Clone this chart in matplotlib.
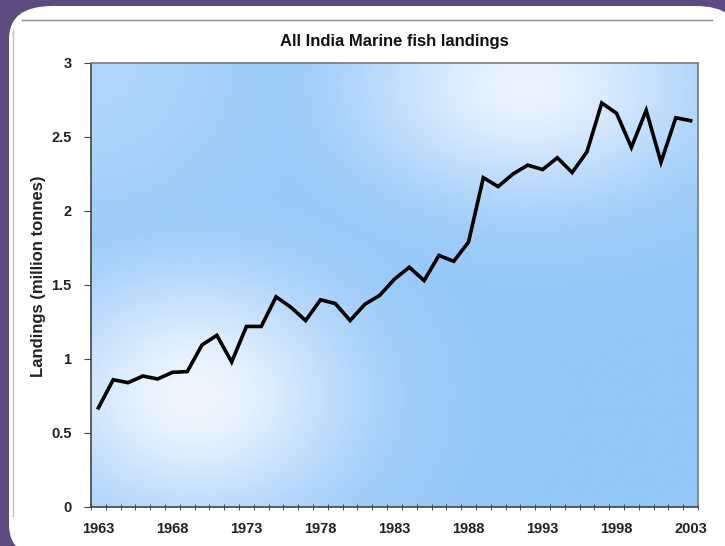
import numpy as np
import matplotlib.pyplot as plt
from matplotlib.patches import FancyBboxPatch
from matplotlib.lines import Line2D
from matplotlib.colors import LinearSegmentedColormap

plt.rcParams['font.family'] = ['Liberation Sans', 'DejaVu Sans']

years = list(range(1963, 2004))
landings = [0.67, 0.86, 0.84, 0.885, 0.865, 0.91, 0.915, 1.095, 1.16, 0.98,
            1.22, 1.22, 1.42, 1.35, 1.26, 1.40, 1.375, 1.26, 1.37, 1.43,
            1.54, 1.62, 1.53, 1.70, 1.66, 1.79, 2.225, 2.165, 2.25, 2.31,
            2.28, 2.36, 2.26, 2.40, 2.73, 2.66, 2.43, 2.68, 2.33, 2.63, 2.61]
x_labels = [1963, 1968, 1973, 1978, 1983, 1988, 1993, 1998, 2003]
y_ticks = [0, 0.5, 1, 1.5, 2, 2.5, 3]

W, H = 725, 546
fig = plt.figure(figsize=(W / 100, H / 100), dpi=100)
fig.patch.set_facecolor('#5f4a80')

# white rounded panel (extends past the right and bottom edges)
panel = FancyBboxPatch((9 / W, -12 / H), 730 / W, 552 / H,
                       boxstyle='round,pad=0,rounding_size=0.06',
                       transform=fig.transFigure, facecolor='white',
                       edgecolor='none', zorder=0)
fig.patches.append(panel)
fig.lines.append(Line2D([22 / W, 712 / W], [1 - 20 / H, 1 - 20 / H],
                        transform=fig.transFigure, color='#8a8a8a', lw=1))
fig.lines.append(Line2D([13 / W, 13 / W], [30 / H, 1 - 30 / H],
                        transform=fig.transFigure, color='#c0c0c0', lw=1))

ax = fig.add_axes([91 / W, 39 / H, 607 / W, 444 / H])
ax.set_zorder(5)

# gradient background of plot area
gx, gy = np.meshgrid(np.linspace(0, 1, 300), np.linspace(0, 1, 300))
light = np.maximum(0.95 * np.exp(-(((gx - 0.17) / 0.26) ** 2 + ((gy - 0.25) / 0.28) ** 2)),
                   0.9 * np.exp(-(((gx - 0.72) / 0.28) ** 2 + ((gy - 0.95) / 0.25) ** 2)))
light = np.maximum(light, 0.3 * np.exp(-(((gx - 0.0) / 0.3) ** 2 + ((gy - 1.0) / 0.4) ** 2)))
cmap = LinearSegmentedColormap.from_list('bg', ['#93c7f9', '#f4f9ff'])
ax.imshow(light, cmap=cmap, vmin=0, vmax=1, origin='lower', aspect='auto',
          extent=[1962.5, 2003.5, 0, 3], zorder=0, interpolation='bilinear')

ax.plot(years, landings, color='black', lw=2.6, solid_joinstyle='miter', zorder=3)

ax.set_xlim(1962.5, 2003.5)
ax.set_ylim(0, 3)
ax.set_yticks(y_ticks)
ax.set_yticklabels(['0', '0.5', '1', '1.5', '2', '2.5', '3'])
ax.set_xticks(x_labels)
ax.set_xticks(np.arange(1962.5, 2004, 1), minor=True)
ax.tick_params(axis='x', which='major', length=0, pad=11)
ax.tick_params(axis='x', which='minor', length=4, direction='inout', color='#333333')
ax.tick_params(axis='y', length=5, direction='out', color='#444444', pad=9)
for lab in ax.get_xticklabels() + ax.get_yticklabels():
    lab.set_fontweight('bold')
    lab.set_fontsize(10.5)
    lab.set_color('#222222')

for s in ['left', 'bottom']:
    ax.spines[s].set_color('#444444')
    ax.spines[s].set_linewidth(1.2)
for s in ['top', 'right']:
    ax.spines[s].set_color('#7a7a7a')
    ax.spines[s].set_linewidth(1.2)

ax.set_title('All India Marine fish landings', fontsize=12, fontweight='bold',
             pad=12, color='#111111')
ax.set_ylabel('Landings (million tonnes)', fontsize=12, fontweight='bold',
              color='#222222')
ax.yaxis.set_label_coords(-0.074, 0.52)

fig.savefig('out.png', dpi=100, facecolor=fig.get_facecolor())
